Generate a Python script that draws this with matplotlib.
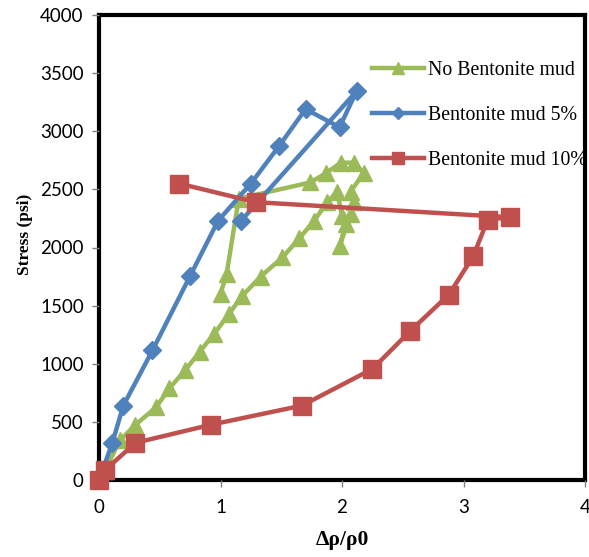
import matplotlib
matplotlib.use("Agg")
import matplotlib.pyplot as plt

# No Bentonite mud (green triangles)
x_none = [0.0, 0.05, 0.17, 0.30, 0.47, 0.58, 0.71, 0.83, 0.95, 1.07, 1.18, 1.33, 1.51, 1.65, 1.77, 1.88,
          1.96, 2.0, 2.03, 1.98, 2.07, 2.10, 2.07, 2.18, 2.10, 1.99, 1.87, 1.74, 1.15, 1.05, 1.0]
y_none = [0, 80, 340, 475, 625, 790, 945, 1105, 1260, 1430, 1585, 1750, 1915, 2080, 2230, 2390,
          2480, 2270, 2200, 2010, 2290, 2390, 2480, 2640, 2730, 2730, 2640, 2560, 2420, 1770, 1600]

# Bentonite mud 5% (blue diamonds)
x_5 = [0.0, 0.11, 0.20, 0.44, 0.75, 0.98, 1.25, 1.48, 1.70, 1.98, 2.12, 1.17]
y_5 = [0, 320, 640, 1115, 1755, 2230, 2550, 2870, 3190, 3035, 3345, 2230]

# Bentonite mud 10% (red squares)
x_10 = [0.0, 0.05, 0.30, 0.92, 1.67, 2.25, 2.56, 2.88, 3.08, 3.20, 3.38, 1.29, 0.66]
y_10 = [0, 85, 320, 475, 640, 955, 1280, 1595, 1925, 2240, 2260, 2390, 2550]

green = "#9BBB59"
blue = "#4F81BD"
red = "#C0504D"

fig = plt.figure(figsize=(5.89, 5.57), dpi=100)
ax = fig.add_axes([99 / 589, 77 / 557, 486 / 589, 465 / 557])

ax.plot(x_none, y_none, color=green, lw=3.2, marker="^", ms=12, label="No Bentonite mud", clip_on=False)
ax.plot(x_5, y_5, color=blue, lw=3.2, marker="D", ms=9, label="Bentonite mud 5%", clip_on=False)
ax.plot(x_10, y_10, color=red, lw=3.2, marker="s", ms=13, label="Bentonite mud 10%", clip_on=False)

ax.set_xlim(0, 4)
ax.set_ylim(0, 4000)
ax.set_xticks([0, 1, 2, 3, 4])
ax.set_yticks(range(0, 4001, 500))
for s in ax.spines.values():
    s.set_linewidth(3)
    s.set_color("black")
    s.set_zorder(1)
ax.tick_params(direction="out", length=5, width=1, color="gray", labelsize=13.5, pad=6)
for lab in ax.get_xticklabels() + ax.get_yticklabels():
    lab.set_family("Lato")
ax.tick_params(axis="x", pad=9)

ax.set_xlabel("Δρ/ρ0", family="Liberation Serif", fontweight="bold", fontsize=15.5, labelpad=10)
ax.set_ylabel("Stress (psi)", family="Liberation Serif", fontweight="bold", fontsize=12.5)
# label sits at about x=14..33, centred on y=234 px
ax.yaxis.set_label_coords((33 - 99) / 486, (480 - 234) / 465)

leg = fig.legend(loc="upper left", bbox_to_anchor=(362 / 589, 1 - 51 / 557), frameon=False,
                 prop={"family": "Liberation Serif", "size": 14.3}, handlelength=2.6,
                 handletextpad=0.2, labelspacing=1.3, borderpad=0, markerscale=0.7)

fig.savefig("out.png", dpi=100)
